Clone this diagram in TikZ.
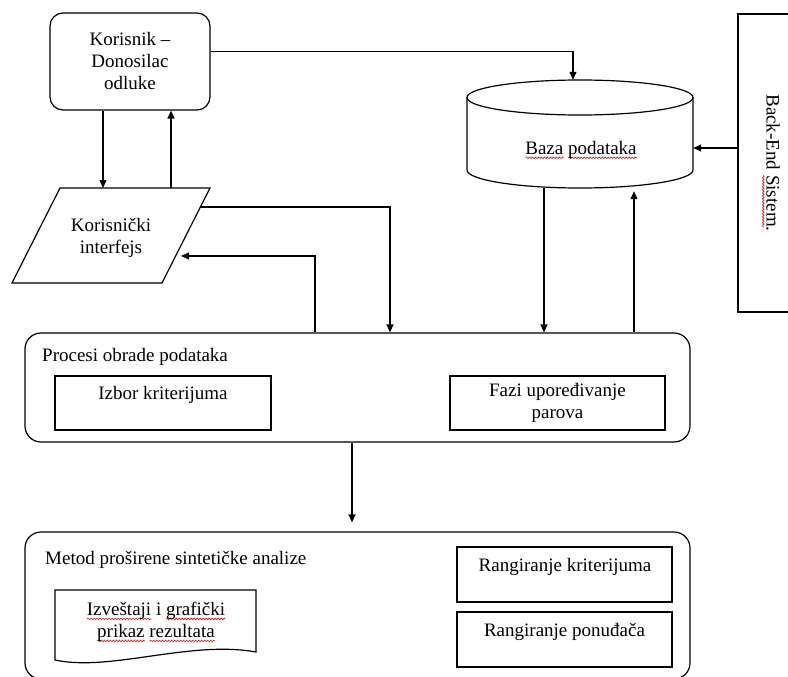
\documentclass[tikz,border=0pt]{standalone}
\usepackage{fontspec}
\setmainfont{Liberation Serif}
\newfontfamily\diagfont{Liberation Serif}
\usetikzlibrary{arrows.meta,decorations.pathmorphing}
% red wavy spell-check underline under a word
\newsavebox\spellbox
\newcommand\spellerr[1]{\sbox\spellbox{#1}\leavevmode\rlap{\tikz[baseline={(0pt,3.5pt)},x=1pt,y=1pt]\draw[red,line width=0.6pt,decorate,decoration={snake,amplitude=0.8pt,segment length=3pt}] (0pt,0pt) -- (\the\wd\spellbox,0pt);}\usebox\spellbox}

\begin{document}
\begin{tikzpicture}[x=1pt,y=-1pt,
  every node/.style={font=\diagfont\fontsize{19}{22}\selectfont},
  line/.style={line width=1.2pt},
  arr/.style={line width=1.2pt,-{Triangle[length=8pt,width=7pt]}},
  rbox/.style={draw,line width=1.2pt,rounded corners=#1},
  rbox/.default=14pt,
  sbox/.style={draw,line width=1.2pt},
  txt/.style={inner sep=0pt,align=center},
]
\useasboundingbox (0,0) rectangle (788,677);

% decision maker
\node[rbox=13pt, minimum width=160pt, minimum height=97pt, align=center] (kor) at (130,61.5)
  {Korisnik –\\Donosilac\\odluke};

% user interface (parallelogram)
\draw[line] (60,188) coordinate (uiTL) -- (210,188) coordinate (uiTR) -- (162,283) -- (12,283) -- cycle;
\node[txt] (ui) at (111,238) {Korisnički\\interfejs};
\coordinate (uiOut) at (200.4,207);
\coordinate (uiIn) at (181,256);

% database cylinder
\node[minimum width=226pt, minimum height=108pt, inner sep=0pt] (db) at (580,134) {};
\draw[line] (580,97.5) ellipse [x radius=113pt, y radius=17.5pt];
\draw[line] (467,97.5) -- (467,170) arc[start angle=180, end angle=360, x radius=113pt, y radius=18pt] -- (693,97.5);
\node[txt] (baza) at (581,150) {\spellerr{Baza} \spellerr{podataka}};

% back-end system
\node[sbox, minimum width=64pt, minimum height=298pt, inner sep=0pt] (be) at (770,163) {};
\node[txt, rotate=-90] (belabel) at (771,163) {Back-End \spellerr{Sistem}.};

% data processing
\node[rbox=16pt, minimum width=665pt, minimum height=109pt] (proc) at (357.5,387.5) {};
\node[txt, anchor=west] (proclabel) at (42,357) {Procesi obrade podataka};
\node[sbox, minimum width=216pt, minimum height=54pt] (izbor) at (163,403) {};
\node[txt] (izbortxt) at (163,395) {Izbor kriterijuma};
\node[sbox, minimum width=215pt, minimum height=54pt, align=center] (fazi) at (557.5,403) {Fazi upoređivanje\\parova};

% extended synthetic analysis
\node[rbox=16pt, minimum width=665pt, minimum height=147pt] (metod) at (357.5,605.5) {};
\node[txt, anchor=west] (metodlabel) at (45,560) {Metod proširene sintetičke analize};
\node[sbox, minimum width=215pt, minimum height=55pt] (rk) at (564.5,574.5) {};
\node[txt] (rktxt) at (565,567) {Rangiranje kriterijuma};
\node[sbox, minimum width=215pt, minimum height=55pt] (rp) at (564.5,639.5) {};
\node[txt] (rptxt) at (564.5,632) {Rangiranje ponuđača};
\draw[line] (55,590) -- (256,590) -- (256,652) .. controls (190,640) and (110,672) .. (55,660) -- cycle;
\node[txt] (doc) at (156,622) {\spellerr{Izveštaji} i \spellerr{grafički}\\\spellerr{prikaz} \spellerr{rezultata}};

% connectors
\coordinate (korUp) at ([xshift=41pt]kor.south);
\coordinate (korDown) at ([xshift=-27pt]kor.south);
\draw[arr] (korDown) -- (korDown |- uiTL);
\draw[arr] (korUp |- uiTL) -- (korUp);
\coordinate (korOut) at ([yshift=10pt]kor.east);
\coordinate (dbTop) at ([xshift=-7pt]db.north);
\draw[arr] (korOut) -| (dbTop);
\coordinate (beOut) at ([yshift=15pt]be.west);
\draw[arr] (beOut) -- (beOut -| db.east);
\coordinate (procIn) at ([xshift=32.5pt]proc.north);
\coordinate (procOutUi) at ([xshift=-42.5pt]proc.north);
\draw[arr] (uiOut) -| (procIn);
\draw[arr] (procOutUi) |- (uiIn);
\coordinate (dbOut) at ([xshift=-36pt]db.south);
\coordinate (dbIn) at ([xshift=54pt,yshift=-3pt]db.south);
\draw[arr] (dbOut) -- (dbOut |- proc.north);
\draw[arr] (dbIn |- proc.north) -- (dbIn);
\coordinate (procOut) at ([xshift=-5.5pt]proc.south);
\draw[arr, shorten >=9pt] (procOut) -- (procOut |- metod.north);
\end{tikzpicture}
\end{document}
